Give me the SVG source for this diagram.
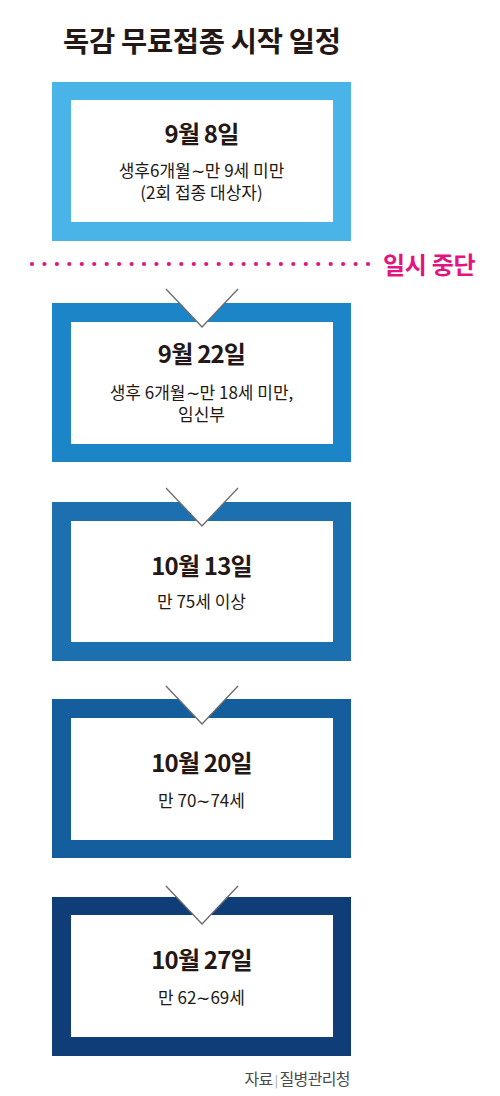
<svg xmlns="http://www.w3.org/2000/svg" width="500" height="1096" viewBox="0 0 500 1096">
<style>
.t{font-family:"Noto Sans CJK KR","Liberation Sans",sans-serif;fill:#231815}
.title{font-size:28.5px;font-weight:700;letter-spacing:-0.3px}
.h{font-size:24px;font-weight:700;letter-spacing:-0.8px;text-anchor:middle}
.s{font-size:17px;font-weight:400;letter-spacing:0px;text-anchor:middle}
.notch{fill:#ffffff;stroke:none}
.nl{fill:none;stroke:#6b6b6b;stroke-width:1.3}
</style>
<rect width="500" height="1096" fill="#ffffff"/>
<text class="t title" x="63" y="52">독감 무료접종 시작 일정</text>

<g id="box1">
<rect x="52" y="82" width="299" height="159" fill="#4ab3e8"/>
<rect x="71" y="100" width="262" height="122" fill="#ffffff"/>
<text class="t h" x="201.5" y="143">9월 8일</text>
<text class="t s" x="201.5" y="177">생후6개월∼만 9세 미만<tspan x="201.5" y="199">(2회 접종 대상자)</tspan></text>
</g>

<g id="pause">
<g fill="#e3147f">
<circle cx="32" cy="264" r="2.1"/><circle cx="44.4" cy="264" r="2.1"/><circle cx="56.9" cy="264" r="2.1"/><circle cx="69.3" cy="264" r="2.1"/><circle cx="81.8" cy="264" r="2.1"/><circle cx="94.2" cy="264" r="2.1"/><circle cx="106.7" cy="264" r="2.1"/><circle cx="119.1" cy="264" r="2.1"/><circle cx="131.6" cy="264" r="2.1"/><circle cx="144" cy="264" r="2.1"/><circle cx="156.4" cy="264" r="2.1"/><circle cx="168.9" cy="264" r="2.1"/><circle cx="181.3" cy="264" r="2.1"/><circle cx="193.8" cy="264" r="2.1"/><circle cx="206.2" cy="264" r="2.1"/><circle cx="218.7" cy="264" r="2.1"/><circle cx="231.1" cy="264" r="2.1"/><circle cx="243.6" cy="264" r="2.1"/><circle cx="256" cy="264" r="2.1"/><circle cx="268.4" cy="264" r="2.1"/><circle cx="280.9" cy="264" r="2.1"/><circle cx="293.3" cy="264" r="2.1"/><circle cx="305.8" cy="264" r="2.1"/><circle cx="318.2" cy="264" r="2.1"/><circle cx="330.7" cy="264" r="2.1"/><circle cx="343.1" cy="264" r="2.1"/><circle cx="355.6" cy="264" r="2.1"/><circle cx="368" cy="264" r="2.1"/>
</g>
<text x="383" y="274" font-family="Noto Sans CJK KR, Liberation Sans, sans-serif" font-size="24" font-weight="700" fill="#e3147f" letter-spacing="-0.3">일시 중단</text>
</g>

<g id="box2">
<rect x="52" y="303" width="299" height="159" fill="#1b85c8"/>
<rect x="71" y="322" width="262" height="122" fill="#ffffff"/>
<text class="t h" x="201.5" y="363">9월 22일</text>
<text class="t s" x="201.5" y="399">생후 6개월∼만 18세 미만,<tspan x="201.5" y="421">임신부</tspan></text>
</g>

<g id="box3">
<rect x="52" y="502" width="299" height="159" fill="#1d70b0"/>
<rect x="71" y="521" width="262" height="121" fill="#ffffff"/>
<text class="t h" x="201.5" y="575">10월 13일</text>
<text class="t s" x="201.5" y="608">만 75세 이상</text>
</g>

<g id="box4">
<rect x="52" y="699" width="299" height="159" fill="#155e9d"/>
<rect x="71" y="718" width="262" height="122" fill="#ffffff"/>
<text class="t h" x="201.5" y="772">10월 20일</text>
<text class="t s" x="201.5" y="807">만 70∼74세</text>
</g>

<g id="box5">
<rect x="52" y="897" width="299" height="159" fill="#0e3d78"/>
<rect x="71" y="915" width="262" height="122" fill="#ffffff"/>
<text class="t h" x="201.5" y="969">10월 27일</text>
<text class="t s" x="201.5" y="1004">만 62∼69세</text>
</g>

<g id="connectors">
<polygon class="notch" points="166,289 202,327 238,289"/>
<polyline class="nl" points="166,289 202,327 238,289"/>
<polygon class="notch" points="166,488 202,526 238,488"/>
<polyline class="nl" points="166,488 202,526 238,488"/>
<polygon class="notch" points="166,686 202,724 238,686"/>
<polyline class="nl" points="166,686 202,724 238,686"/>
<polygon class="notch" points="166,886 202,924 238,886"/>
<polyline class="nl" points="166,886 202,924 238,886"/>
</g>

<text x="350" y="1085" text-anchor="end" font-family="Noto Sans CJK KR, Liberation Sans, sans-serif" font-size="16" fill="#4a4a4a" letter-spacing="-0.6">자료<tspan fill="#9a9a9a" font-size="12" dx="2">|</tspan><tspan dx="2">질병관리청</tspan></text>
</svg>
